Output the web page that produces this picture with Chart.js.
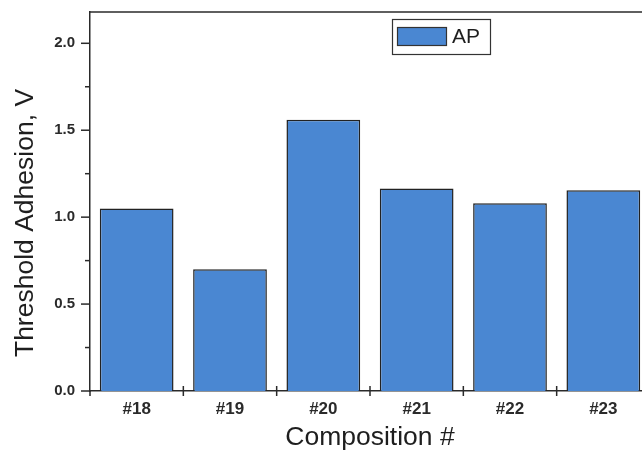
<!DOCTYPE html>
<html><head><meta charset="utf-8">
<script src="https://cdn.jsdelivr.net/npm/chart.js@4/dist/chart.umd.min.js"></script>
<style>
html,body{margin:0;padding:0;overflow:hidden;background:#fff;}
#wrap{width:650px;height:459px;position:relative;}
</style></head>
<body><div id="wrap"><canvas id="c"></canvas></div>
<script>
const categories = ['#18','#19','#20','#21','#22','#23'];
const seriesName = 'AP';
const apValues = [1.05, 0.70, 1.56, 1.165, 1.08, 1.155];
const yMajorTicks = [0.0, 0.5, 1.0, 1.5, 2.0];
const yMinorTicks = [0.25, 0.75, 1.25, 1.75];
const yMax = 2.18;
const yTitle = 'Threshold Adhesion, V';
const xTitle = 'Composition #';

const AX = '#2a2a2a';
const FONT = '"Liberation Sans", Arial, sans-serif';

const decor = {
  id: 'decor',
  afterDraw(chart) {
    const ctx = chart.ctx, a = chart.chartArea;
    const xs = chart.scales.x, ys = chart.scales.y;
    ctx.save();
    ctx.strokeStyle = AX; ctx.lineWidth = 1.5;
    ctx.beginPath(); ctx.moveTo(a.left, a.top); ctx.lineTo(a.right + 20, a.top); ctx.stroke();
    yMajorTicks.forEach(v => { const y = ys.getPixelForValue(v);
      ctx.beginPath(); ctx.moveTo(a.left - 9, y); ctx.lineTo(a.left, y); ctx.stroke(); });
    yMinorTicks.forEach(v => { const y = ys.getPixelForValue(v);
      ctx.beginPath(); ctx.moveTo(a.left - 5, y); ctx.lineTo(a.left, y); ctx.stroke(); });
    for (let i = 1; i < categories.length; i++) {
      const x = xs.getPixelForValue(i - 0.5);
      ctx.beginPath(); ctx.moveTo(x, a.bottom - 5); ctx.lineTo(x, a.bottom + 5); ctx.stroke();
    }
    {
      const x = xs.getPixelForValue(-0.5);
      ctx.beginPath(); ctx.moveTo(x, a.bottom); ctx.lineTo(x, a.bottom + 5); ctx.stroke();
    }
    ctx.fillStyle = '#1e1e1e';
    ctx.font = '26.5px ' + FONT;
    ctx.textAlign = 'center';
    ctx.textBaseline = 'middle';
    ctx.save();
    ctx.translate(26, 223);
    ctx.rotate(-Math.PI / 2);
    ctx.fillText(yTitle, 0, 0);
    ctx.restore();
    ctx.font = '26.5px ' + FONT;
    ctx.fillText(xTitle, 370, 438);
    const ds = chart.data.datasets[0];
    ctx.lineWidth = 1.2;
    ctx.strokeStyle = '#333';
    ctx.fillStyle = '#fff';
    ctx.fillRect(392, 19, 98, 35);
    ctx.strokeRect(392.5, 19.5, 98, 35);
    ctx.fillStyle = ds.backgroundColor;
    ctx.fillRect(397.5, 27.5, 49, 18);
    ctx.strokeRect(397.5, 27.5, 49, 18);
    ctx.fillStyle = '#1e1e1e';
    ctx.font = '21px ' + FONT;
    ctx.textBaseline = 'middle';
    ctx.textAlign = 'left';
    ctx.fillText(ds.label, 452, 37);
    ctx.restore();
  }
};

new Chart(document.getElementById('c'), {
  type: 'bar',
  data: {
    labels: categories,
    datasets: [{
      label: seriesName,
      data: apValues,
      backgroundColor: '#4a87d2',
      borderColor: '#222',
      borderWidth: 1.5,
      barPercentage: 0.79,
      categoryPercentage: 1.0
    }]
  },
  options: {
    responsive: true,
    maintainAspectRatio: false,
    animation: false,
    layout: { padding: { top: 12, right: 0, left: 0, bottom: 0 } },
    plugins: { legend: { display: false }, tooltip: { enabled: false } },
    scales: {
      x: {
        offset: true,
        grid: { display: false, drawTicks: false },
        border: { display: true, color: AX, width: 1.5 },
        ticks: { color: '#2a2a2a', font: { family: FONT, size: 17, weight: 'bold' }, padding: 8, maxRotation: 0 },
        title: { display: false },
        afterFit(s) { s.height = 68; s.paddingLeft = 0; s.paddingRight = 0; }
      },
      y: {
        min: 0, max: yMax,
        grid: { display: false, drawTicks: false },
        border: { display: true, color: AX, width: 1.5 },
        ticks: { stepSize: 0.5, includeBounds: false, color: '#2a2a2a',
                 font: { family: FONT, size: 15, weight: 'bold' }, padding: 15,
                 callback: v => Number(v).toFixed(1) },
        title: { display: false },
        afterFit(s) { s.width = 90; s.paddingTop = 0; s.paddingBottom = 0; }
      }
    }
  },
  plugins: [decor]
});
</script></body></html>
